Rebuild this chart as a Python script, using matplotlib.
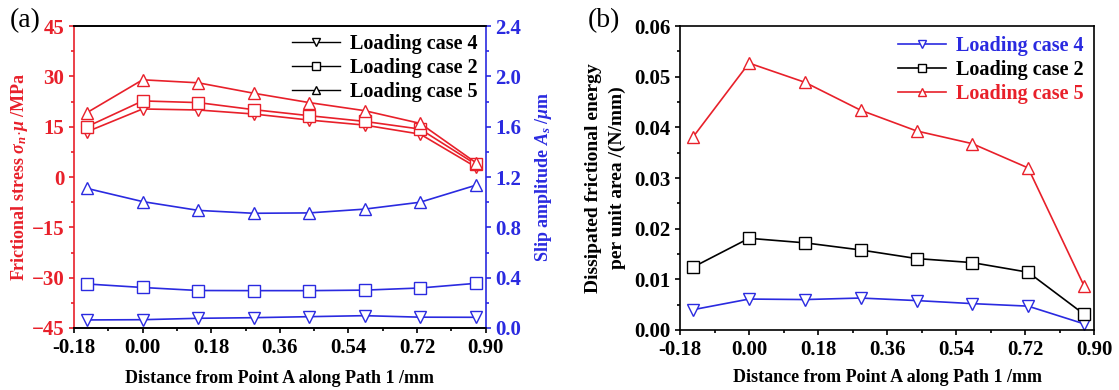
import numpy as np
import matplotlib.pyplot as plt
from matplotlib.ticker import MultipleLocator, AutoMinorLocator, FormatStrFormatter

plt.rcParams['font.family'] = ['Liberation Serif', 'DejaVu Serif']
plt.rcParams['font.weight'] = 'bold'
plt.rcParams['mathtext.fontset'] = 'custom'
plt.rcParams['mathtext.it'] = 'Liberation Serif:italic:bold'
plt.rcParams['mathtext.rm'] = 'Liberation Serif:bold'

# distance along path 1 (mm)
dist = [-0.146, 0.0, 0.146, 0.291, 0.437, 0.582, 0.728, 0.874]

# (a) frictional stress (MPa)
stress_case4 = [13.5, 20.3, 20.0, 18.8, 17.0, 15.5, 12.8, 3.0]
stress_case2 = [15.0, 22.7, 22.2, 20.1, 18.3, 16.6, 14.3, 3.8]
stress_case5 = [19.2, 29.0, 28.1, 25.0, 22.2, 19.8, 16.0, 4.3]

# (a) slip amplitude (um)
slip_case4 = [0.064, 0.066, 0.077, 0.082, 0.090, 0.098, 0.086, 0.085]
slip_case2 = [0.350, 0.322, 0.298, 0.297, 0.297, 0.301, 0.318, 0.355]
slip_case5 = [1.11, 1.005, 0.935, 0.912, 0.915, 0.945, 1.0, 1.135]

# (b) dissipated frictional energy per unit area (N/mm)
energy_case4 = [0.0040, 0.0061, 0.0060, 0.0063, 0.0058, 0.0052, 0.0047, 0.0012]
energy_case2 = [0.0124, 0.0181, 0.0172, 0.0158, 0.0141, 0.0133, 0.0114, 0.0031]
energy_case5 = [0.0381, 0.0527, 0.0489, 0.0434, 0.0393, 0.0368, 0.0320, 0.0087]

labels = ['Loading case 4', 'Loading case 2', 'Loading case 5']
markers = ['v', 's', '^']
xticks = [-0.18, 0.0, 0.18, 0.36, 0.54, 0.72, 0.90]
xlabel = 'Distance from Point A along Path 1 /mm'

red = '#e8202a'
blue = '#2a2ae0'
fs = 13      # axis labels
tfs = 15     # tick labels
lfs = 14.5   # legend

fig = plt.figure(figsize=(11.19, 3.9), dpi=100)

# ---- panel (a)
ax = fig.add_axes([0.0661, 0.159, 0.368, 0.774])
ax2 = ax.twinx()
ms = dict(markersize=9, markerfacecolor='white', markeredgewidth=1.0, linewidth=1.2)
for ys, m in zip([stress_case4, stress_case2, stress_case5], markers):
    ax.plot(dist, ys, marker=m, color=red, **ms)
for ys, m in zip([slip_case4, slip_case2, slip_case5], markers):
    ax2.plot(dist, ys, marker=m, color=blue, **ms)

ax.set_xlim(-0.18, 0.90)
ax.set_xticks(xticks)
ax.xaxis.set_major_formatter(FormatStrFormatter('%.2f'))
ax.xaxis.set_minor_locator(AutoMinorLocator(2))
ax.set_ylim(-45, 45)
ax.yaxis.set_major_locator(MultipleLocator(15))
ax.yaxis.set_minor_locator(AutoMinorLocator(2))
ax2.set_ylim(0, 2.4)
ax2.yaxis.set_major_locator(MultipleLocator(0.4))
ax2.yaxis.set_minor_locator(AutoMinorLocator(2))
ax2.yaxis.set_major_formatter(FormatStrFormatter('%.1f'))

ax.tick_params(axis='x', which='both', direction='out', labelsize=tfs, width=1.2)
ax.tick_params(axis='y', which='both', direction='out', colors=red, labelsize=tfs, width=1.2)
ax2.tick_params(axis='y', which='both', direction='out', colors=blue, labelsize=tfs, width=1.2)
ax.spines['left'].set_color(red)
ax2.spines['left'].set_visible(False)
ax.spines['right'].set_visible(False)
ax2.spines['right'].set_color(blue)
for s in ax.spines.values():
    s.set_linewidth(1.2)
for s in ax2.spines.values():
    s.set_linewidth(1.2)

ax.set_xlabel(xlabel, fontsize=fs, fontweight='bold', labelpad=9)
ax.set_ylabel(r'Frictional stress $\sigma_n$$\cdot$$\mu$ /MPa', fontsize=fs,
              fontweight='bold', color=red, labelpad=1)
ax2.set_ylabel(r'Slip amplitude $A_s$ /$\mu$m', fontsize=fs, fontweight='bold',
               color=blue, labelpad=8)

handles = [plt.Line2D([], [], color='black', marker=m, markersize=6,
                      markerfacecolor='white', linewidth=1.0) for m in markers]
ax2.legend(handles, labels, loc='upper right', frameon=False,
           handlelength=2.4, borderaxespad=0.0, labelspacing=0.2, handletextpad=0.5,
           prop={'weight': 'bold', 'size': lfs})
fig.text(0.009, 0.946, '(a)', fontsize=20, fontweight='normal', va='center')

# ---- panel (b)
bx = fig.add_axes([0.6077, 0.154, 0.370, 0.779])
cols = [blue, 'black', red]
for ys, m, c, lb in zip([energy_case4, energy_case2, energy_case5], markers, cols, labels):
    bx.plot(dist, ys, marker=m, color=c, label=lb, **ms)
bx.set_xlim(-0.18, 0.90)
bx.set_xticks(xticks)
bx.xaxis.set_major_formatter(FormatStrFormatter('%.2f'))
bx.xaxis.set_minor_locator(AutoMinorLocator(2))
bx.set_ylim(0, 0.06)
bx.yaxis.set_major_locator(MultipleLocator(0.01))
bx.yaxis.set_minor_locator(AutoMinorLocator(2))
bx.yaxis.set_major_formatter(FormatStrFormatter('%.2f'))
bx.tick_params(which='both', direction='out', labelsize=tfs, width=1.2)
for s in bx.spines.values():
    s.set_linewidth(1.2)
bx.set_xlabel(xlabel, fontsize=fs, fontweight='bold', labelpad=7)
bx.set_ylabel('Dissipated frictional energy\nper unit area /(N/mm)', fontsize=14,
              fontweight='bold', labelpad=6, linespacing=1.45)
lg = bx.legend(loc='upper right', frameon=False, handlelength=2.4, borderaxespad=0.1,
               labelspacing=0.2, handletextpad=0.5, prop={'weight': 'bold', 'size': lfs})
for t, c in zip(lg.get_texts(), cols):
    t.set_color(c)
for h in lg.legend_handles:
    h.set_markersize(6)
fig.text(0.525, 0.946, '(b)', fontsize=20, fontweight='normal', va='center')

fig.savefig('out.png', dpi=100)
